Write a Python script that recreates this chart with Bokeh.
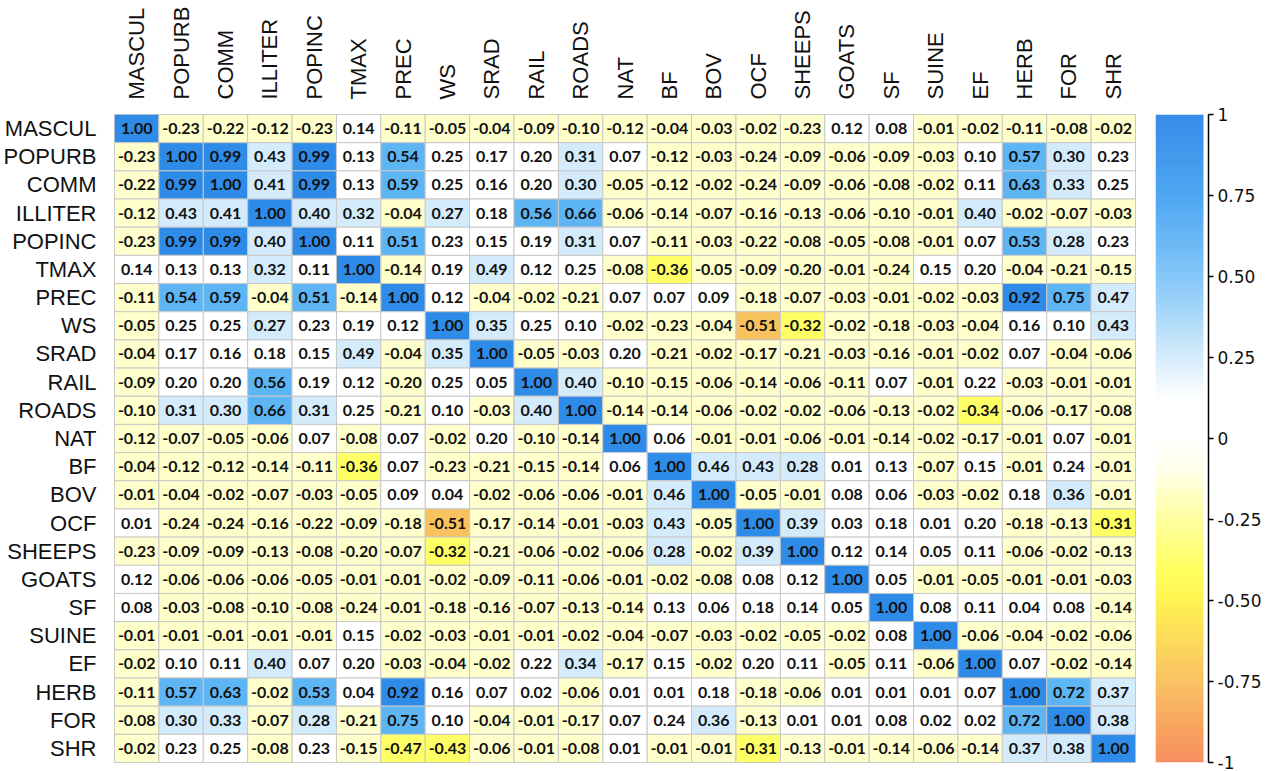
import numpy as np
import pandas as pd
from bokeh.plotting import figure
from bokeh.layouts import row
from bokeh.models import (ColumnDataSource, FactorRange, LinearColorMapper, LinearAxis,
                          FixedTicker, CustomJSTickFormatter, Range1d)
from bokeh.transform import factor_cmap
from bokeh.core.properties import value
from bokeh.embed import file_html
from bokeh.resources import INLINE

# Variable names (row and column order)
variables = ["MASCUL", "POPURB", "COMM", "ILLITER", "POPINC", "TMAX", "PREC", "WS", "SRAD",
             "RAIL", "ROADS", "NAT", "BF", "BOV", "OCF", "SHEEPS", "GOATS", "SF", "SUINE",
             "EF", "HERB", "FOR", "SHR"]

# Correlation coefficients, one list per row
MASCUL = [1.00, -0.23, -0.22, -0.12, -0.23, 0.14, -0.11, -0.05, -0.04, -0.09, -0.10, -0.12, -0.04, -0.03, -0.02, -0.23, 0.12, 0.08, -0.01, -0.02, -0.11, -0.08, -0.02]
POPURB = [-0.23, 1.00, 0.99, 0.43, 0.99, 0.13, 0.54, 0.25, 0.17, 0.20, 0.31, 0.07, -0.12, -0.03, -0.24, -0.09, -0.06, -0.09, -0.03, 0.10, 0.57, 0.30, 0.23]
COMM = [-0.22, 0.99, 1.00, 0.41, 0.99, 0.13, 0.59, 0.25, 0.16, 0.20, 0.30, -0.05, -0.12, -0.02, -0.24, -0.09, -0.06, -0.08, -0.02, 0.11, 0.63, 0.33, 0.25]
ILLITER = [-0.12, 0.43, 0.41, 1.00, 0.40, 0.32, -0.04, 0.27, 0.18, 0.56, 0.66, -0.06, -0.14, -0.07, -0.16, -0.13, -0.06, -0.10, -0.01, 0.40, -0.02, -0.07, -0.03]
POPINC = [-0.23, 0.99, 0.99, 0.40, 1.00, 0.11, 0.51, 0.23, 0.15, 0.19, 0.31, 0.07, -0.11, -0.03, -0.22, -0.08, -0.05, -0.08, -0.01, 0.07, 0.53, 0.28, 0.23]
TMAX = [0.14, 0.13, 0.13, 0.32, 0.11, 1.00, -0.14, 0.19, 0.49, 0.12, 0.25, -0.08, -0.36, -0.05, -0.09, -0.20, -0.01, -0.24, 0.15, 0.20, -0.04, -0.21, -0.15]
PREC = [-0.11, 0.54, 0.59, -0.04, 0.51, -0.14, 1.00, 0.12, -0.04, -0.02, -0.21, 0.07, 0.07, 0.09, -0.18, -0.07, -0.03, -0.01, -0.02, -0.03, 0.92, 0.75, 0.47]
WS = [-0.05, 0.25, 0.25, 0.27, 0.23, 0.19, 0.12, 1.00, 0.35, 0.25, 0.10, -0.02, -0.23, -0.04, -0.51, -0.32, -0.02, -0.18, -0.03, -0.04, 0.16, 0.10, 0.43]
SRAD = [-0.04, 0.17, 0.16, 0.18, 0.15, 0.49, -0.04, 0.35, 1.00, -0.05, -0.03, 0.20, -0.21, -0.02, -0.17, -0.21, -0.03, -0.16, -0.01, -0.02, 0.07, -0.04, -0.06]
RAIL = [-0.09, 0.20, 0.20, 0.56, 0.19, 0.12, -0.20, 0.25, 0.05, 1.00, 0.40, -0.10, -0.15, -0.06, -0.14, -0.06, -0.11, 0.07, -0.01, 0.22, -0.03, -0.01, -0.01]
ROADS = [-0.10, 0.31, 0.30, 0.66, 0.31, 0.25, -0.21, 0.10, -0.03, 0.40, 1.00, -0.14, -0.14, -0.06, -0.02, -0.02, -0.06, -0.13, -0.02, -0.34, -0.06, -0.17, -0.08]
NAT = [-0.12, -0.07, -0.05, -0.06, 0.07, -0.08, 0.07, -0.02, 0.20, -0.10, -0.14, 1.00, 0.06, -0.01, -0.01, -0.06, -0.01, -0.14, -0.02, -0.17, -0.01, 0.07, -0.01]
BF = [-0.04, -0.12, -0.12, -0.14, -0.11, -0.36, 0.07, -0.23, -0.21, -0.15, -0.14, 0.06, 1.00, 0.46, 0.43, 0.28, 0.01, 0.13, -0.07, 0.15, -0.01, 0.24, -0.01]
BOV = [-0.01, -0.04, -0.02, -0.07, -0.03, -0.05, 0.09, 0.04, -0.02, -0.06, -0.06, -0.01, 0.46, 1.00, -0.05, -0.01, 0.08, 0.06, -0.03, -0.02, 0.18, 0.36, -0.01]
OCF = [0.01, -0.24, -0.24, -0.16, -0.22, -0.09, -0.18, -0.51, -0.17, -0.14, -0.01, -0.03, 0.43, -0.05, 1.00, 0.39, 0.03, 0.18, 0.01, 0.20, -0.18, -0.13, -0.31]
SHEEPS = [-0.23, -0.09, -0.09, -0.13, -0.08, -0.20, -0.07, -0.32, -0.21, -0.06, -0.02, -0.06, 0.28, -0.02, 0.39, 1.00, 0.12, 0.14, 0.05, 0.11, -0.06, -0.02, -0.13]
GOATS = [0.12, -0.06, -0.06, -0.06, -0.05, -0.01, -0.01, -0.02, -0.09, -0.11, -0.06, -0.01, -0.02, -0.08, 0.08, 0.12, 1.00, 0.05, -0.01, -0.05, -0.01, -0.01, -0.03]
SF = [0.08, -0.03, -0.08, -0.10, -0.08, -0.24, -0.01, -0.18, -0.16, -0.07, -0.13, -0.14, 0.13, 0.06, 0.18, 0.14, 0.05, 1.00, 0.08, 0.11, 0.04, 0.08, -0.14]
SUINE = [-0.01, -0.01, -0.01, -0.01, -0.01, 0.15, -0.02, -0.03, -0.01, -0.01, -0.02, -0.04, -0.07, -0.03, -0.02, -0.05, -0.02, 0.08, 1.00, -0.06, -0.04, -0.02, -0.06]
EF = [-0.02, 0.10, 0.11, 0.40, 0.07, 0.20, -0.03, -0.04, -0.02, 0.22, 0.34, -0.17, 0.15, -0.02, 0.20, 0.11, -0.05, 0.11, -0.06, 1.00, 0.07, -0.02, -0.14]
HERB = [-0.11, 0.57, 0.63, -0.02, 0.53, 0.04, 0.92, 0.16, 0.07, 0.02, -0.06, 0.01, 0.01, 0.18, -0.18, -0.06, 0.01, 0.01, 0.01, 0.07, 1.00, 0.72, 0.37]
FOR = [-0.08, 0.30, 0.33, -0.07, 0.28, -0.21, 0.75, 0.10, -0.04, -0.01, -0.17, 0.07, 0.24, 0.36, -0.13, 0.01, 0.01, 0.08, 0.02, 0.02, 0.72, 1.00, 0.38]
SHR = [-0.02, 0.23, 0.25, -0.08, 0.23, -0.15, -0.47, -0.43, -0.06, -0.01, -0.08, 0.01, -0.01, -0.01, -0.31, -0.13, -0.01, -0.14, -0.06, -0.14, 0.37, 0.38, 1.00]

corr_rows = [MASCUL, POPURB, COMM, ILLITER, POPINC, TMAX, PREC, WS, SRAD, RAIL, ROADS, NAT,
             BF, BOV, OCF, SHEEPS, GOATS, SF, SUINE, EF, HERB, FOR, SHR]

# Colour classes of width 0.25 and the colour scale shown beside the matrix
class_edges = [-1.0, -0.75, -0.5, -0.25, 0.0, 0.25, 0.5, 0.75, 1.0]
class_labels = ["c%d" % i for i in range(8)]
class_colors = ["#f7915e", "#f8c35f", "#ffff66", "#ffffcc",
                "#ffffff", "#d3ebfb", "#5eb5f4", "#2f8be8"]

scale_stops = [(-1.0, "#f78f5e"), (-0.75, "#f9c262"), (-0.5, "#fff352"), (-0.42, "#ffff5c"),
               (-0.25, "#ffffa0"), (-0.1, "#ffffea"), (0.0, "#ffffff"), (0.12, "#ffffff"),
               (0.25, "#d6edfc"), (0.5, "#85c7f8"), (0.75, "#4ea7f2"), (1.0, "#368ce8")]


def build_palette(stops, n=256):
    pos = np.array([s[0] for s in stops])
    rgb = np.array([[int(c[i:i + 2], 16) for i in (1, 3, 5)] for _, c in stops], dtype=float)
    t = np.linspace(-1, 1, n)
    chans = [np.interp(t, pos, rgb[:, k]) for k in range(3)]
    return ["#%02x%02x%02x" % tuple(int(round(ch[i])) for ch in chans) for i in range(n)]


records = []
for r_name, vals in zip(variables, corr_rows):
    for c_name, v in zip(variables, vals):
        records.append((r_name, c_name, v))
df = pd.DataFrame(records, columns=["row", "col", "value"])
df["label"] = df["value"].map(lambda v: f"{v:.2f}")
df["cls"] = pd.cut(df["value"], bins=class_edges, labels=class_labels,
                   right=True, include_lowest=True).astype(str)
source = ColumnDataSource(df)

label_font = "Liberation Sans, sans-serif"

p = figure(width=1145, height=771,
           x_range=FactorRange(*variables), y_range=FactorRange(*variables[::-1]),
           x_axis_location="above", toolbar_location=None, output_backend="svg",
           min_border_left=112, min_border_right=10, min_border_top=114, min_border_bottom=9)
p.outline_line_color = "#bdbdbd"
p.grid.visible = False
p.background_fill_color = "white"

p.rect(x="col", y="row", width=1, height=1, source=source,
       fill_color=factor_cmap("cls", palette=class_colors, factors=class_labels),
       line_color="#c8c8c8", line_width=1)
p.text(x="col", y="row", text="label", source=source,
       text_align="center", text_baseline="middle",
       text_font=value("Lato"), text_font_style="bold", text_font_size="16px",
       text_color="#111111")

for ax in (p.xaxis[0], p.yaxis[0]):
    ax.axis_line_color = None
    ax.major_tick_line_color = None
    ax.minor_tick_line_color = None
    ax.major_label_text_font = label_font
    ax.major_label_text_font_size = "22px"
    ax.major_label_text_color = "#111111"
p.xaxis.major_label_orientation = "vertical"
p.xaxis.major_label_standoff = 9
p.yaxis.major_label_standoff = 12

# Colour scale
scale_mapper = LinearColorMapper(palette=build_palette(scale_stops), low=-1, high=1)
cb = figure(width=126, height=771, x_range=Range1d(0, 53 / 48), y_range=Range1d(-1, 1),
            x_axis_location=None, y_axis_location=None, toolbar_location=None,
            output_backend="svg", min_border_left=10, min_border_right=63,
            min_border_top=114, min_border_bottom=8)
cb.outline_line_color = None
cb.grid.visible = False
gradient = np.linspace(-1, 1, 400).reshape(-1, 1)
cb.image(image=[gradient], x=0, y=-1, dw=1, dh=2, color_mapper=scale_mapper)

scale_axis = LinearAxis(
    ticker=FixedTicker(ticks=[-1, -0.75, -0.5, -0.25, 0, 0.25, 0.5, 0.75, 1]),
    formatter=CustomJSTickFormatter(code="""
        if (Math.abs(tick) < 1e-9) return "0";
        if (Math.abs(Math.abs(tick) - 1) < 1e-9) return tick.toFixed(0);
        return tick.toFixed(2);
    """))
scale_axis.axis_line_color = "black"
scale_axis.axis_line_width = 1.5
scale_axis.major_tick_line_color = "black"
scale_axis.major_tick_line_width = 1.5
scale_axis.major_tick_in = 0
scale_axis.major_tick_out = 5
scale_axis.minor_tick_line_color = None
scale_axis.major_label_text_font = "DejaVu Sans"
scale_axis.major_label_text_font_size = "17px"
scale_axis.major_label_text_color = "#111111"
scale_axis.major_label_standoff = 4
cb.add_layout(scale_axis, "right")

layout = row(p, cb)
open("out.html", "w").write(file_html(layout, INLINE))
